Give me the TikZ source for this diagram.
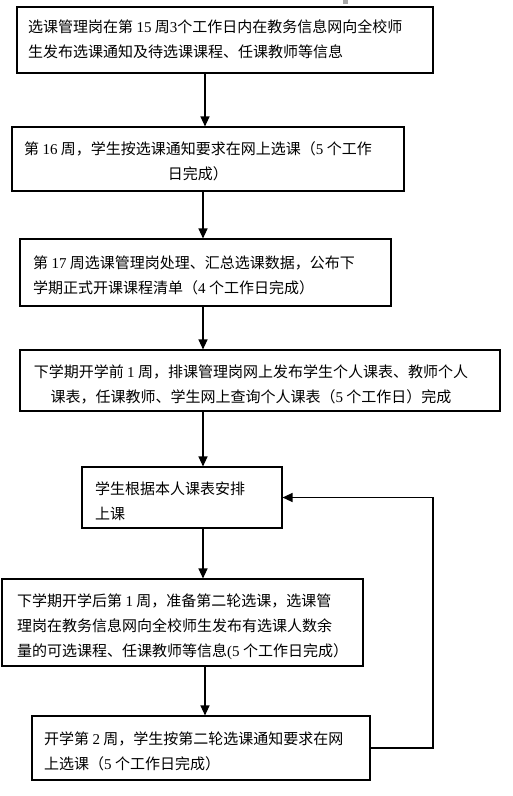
\documentclass[tikz,border=0pt]{standalone}
\usepackage{fontspec}
\newfontfamily\cjk{Noto Sans CJK SC}
\newfontfamily\lat{Liberation Serif}
\usetikzlibrary{arrows.meta}
\begin{document}
\begin{tikzpicture}[x=1pt,y=-1pt,
  box/.style={draw=black,line width=1.1pt,rectangle,inner sep=0pt},
  txt/.style={inner sep=0pt,font=\cjk\fontsize{15}{25}\selectfont},
  arr/.style={draw=black,line width=1.2pt,-{Triangle[length=10pt,width=9pt]}}]
\useasboundingbox (0,0) rectangle (512,796);
\fill[black!35] (343,0) rectangle (348,4);
% boxes
\node[box,minimum width=416pt,minimum height=66pt] (b1) at (225,40) {};
\node[box,minimum width=392pt,minimum height=64pt] (b2) at (208,159) {};
\node[box,minimum width=371pt,minimum height=67pt] (b3) at (205.5,272.5) {};
\node[box,minimum width=480pt,minimum height=61pt] (b4) at (260,380.5) {};
\node[box,minimum width=200pt,minimum height=61pt] (b5) at (182,497.5) {};
\node[box,minimum width=361pt,minimum height=87pt] (b6) at (182.5,622.5) {};
\node[box,minimum width=338pt,minimum height=64pt] (b7) at (201,748) {};
% texts
\node[txt,anchor=west,align=left] (t1) at (28,39.5) {选课管理岗在第 {\lat 15} 周{\lat 3}个工作日内在教务信息网向全校师\\生发布选课通知及待选课课程、任课教师等信息};
\node[txt,align=center] (t2) at (198,161) {第 {\lat 16} 周，学生按选课通知要求在网上选课（{\lat 5} 个工作\\日完成）};
\node[txt,anchor=west,align=left] (t3) at (33,275) {第 {\lat 17} 周选课管理岗处理、汇总选课数据，公布下\\学期正式开课课程清单（{\lat 4} 个工作日完成）};
\node[txt,align=center] (t4) at (251,384.5) {下学期开学前 {\lat 1} 周，排课管理岗网上发布学生个人课表、教师个人\\课表，任课教师、学生网上查询个人课表（{\lat 5} 个工作日）完成};
\node[txt,anchor=west,align=left] (t5) at (95,501) {学生根据本人课表安排\\上课};
\node[txt,anchor=west,align=left] (t6) at (17,627) {下学期开学后第 {\lat 1} 周，准备第二轮选课，选课管\\理岗在教务信息网向全校师生发布有选课人数余\\量的可选课程、任课教师等信息{\lat (}{\lat 5} 个工作日完成）};
\node[txt,anchor=west,align=left] (t7) at (44,751) {开学第 {\lat 2} 周，学生按第二轮选课通知要求在网\\上选课（{\lat 5} 个工作日完成）};
% connector columns
\coordinate (ca) at (205,0);
\coordinate (cb) at (203,0);
\coordinate (cf) at (433,0);
\draw[arr] (b1.south -| ca) -- (b2.north -| ca);
\draw[arr] (b2.south -| cb) -- (b3.north -| cb);
\draw[arr] (b3.south -| cb) -- (b4.north -| cb);
\draw[arr] (b4.south -| cb) -- (b5.north -| cb);
\draw[arr] (b5.south -| cb) -- (b6.north -| cb);
\draw[arr] (b6.south -| ca) -- (b7.north -| ca);
\draw[arr] (b7.east) -- (b7.east -| cf) |- (b5.east);
\end{tikzpicture}
\end{document}
